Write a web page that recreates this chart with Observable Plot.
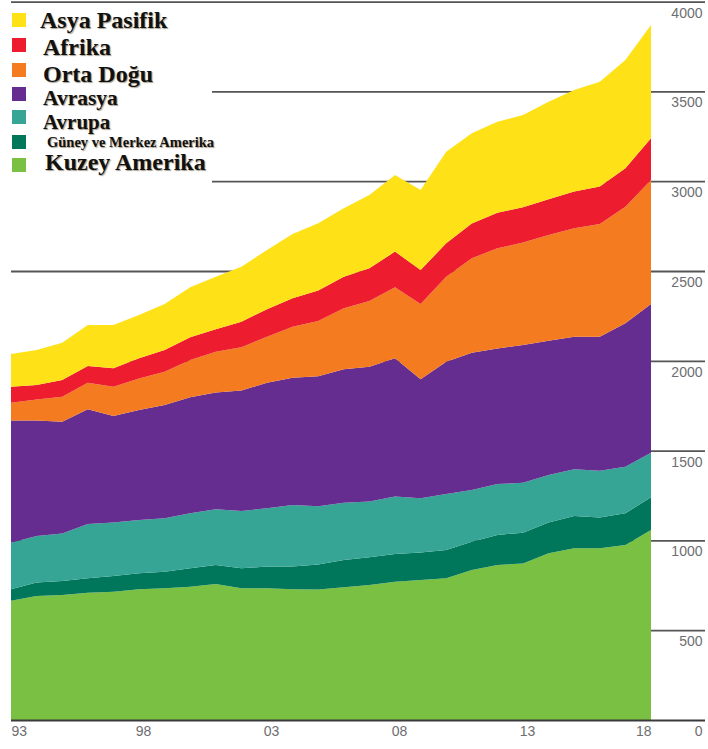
<!DOCTYPE html>
<html><head><meta charset="utf-8">
<script src="https://cdn.jsdelivr.net/npm/d3@7"></script>
<script src="https://cdn.jsdelivr.net/npm/@observablehq/plot@0.6"></script>
<style>
body{margin:0;background:#fff;}
#wrap{position:relative;width:708px;height:749px;}
#legend{position:absolute;left:0;top:0;}
</style>
</head><body><div id="wrap"></div>
<script>
// ---- data ----
const years = [1993,1994,1995,1996,1997,1998,1999,2000,2001,2002,2003,2004,2005,2006,2007,2008,2009,2010,2011,2012,2013,2014,2015,2016,2017,2018];
const kuzeyAmerika = [664,690,696,709,714,728,733,742,757,733,733,728,726,739,752,770,780,789,835,863,872,928,956,956,974,1058];
const guneyMerkezAmerika = [64,75,78,80,88,89,93,103,106,112,121,126,140,152,154,154,152,158,158,167,171,171,180,172,177,182];
const avrupa = [259,259,265,302,297,297,297,306,310,319,325,343,324,319,310,320,302,311,288,284,278,265,260,260,259,248];
const avrasya = [680,643,622,639,594,612,631,646,650,670,699,709,724,743,751,770,663,737,764,755,767,748,738,746,799,828];
const ortaDogu = [100,118,139,148,163,176,185,207,228,241,256,284,308,339,366,395,419,473,526,557,570,588,604,628,649,691];
const afrika = [89,80,93,93,102,112,121,127,124,143,153,158,170,176,182,199,190,186,194,199,197,199,204,208,214,232];
const asyaPasifik = [182,195,208,228,241,241,256,278,293,306,330,358,374,381,408,427,445,510,502,506,514,544,566,584,603,631];

const regions = ["Kuzey Amerika","Güney ve Merkez Amerika","Avrupa","Avrasya","Orta Doğu","Afrika","Asya Pasifik"];
const seriesValues = [kuzeyAmerika, guneyMerkezAmerika, avrupa, avrasya, ortaDogu, afrika, asyaPasifik];
const colors = ["#7ac143","#00765a","#36a596","#652d90","#f47b20","#ed1c2e","#fee116"];
const legendOrder = ["Asya Pasifik","Afrika","Orta Doğu","Avrasya","Avrupa","Güney ve Merkez Amerika","Kuzey Amerika"];

const yTicks = [500,1000,1500,2000,2500,3000,3500,4000];
const yLabels = [0,500,1000,1500,2000,2500,3000,3500,4000];
const xTickYears = [1993,1998,2003,2008,2013,2018];
const xTickLabels = ["93","98","03","08","13","18"];

// ---- long table for the library ----
const table = [];
regions.forEach((r, k) => years.forEach((yr, i) => table.push({year: yr, region: r, value: seriesValues[k][i]})));

const labelStyle = {fill: "#6d6e71", fontSize: 14, fontFamily: "Liberation Sans, Arial, sans-serif"};

const chart = Plot.plot({
  width: 708, height: 749,
  marginLeft: 11, marginRight: 57, marginTop: 1.6, marginBottom: 29,
  x: {domain: [1993, 2018], axis: null},
  y: {domain: [0, 4000], axis: null},
  color: {domain: regions, range: colors},
  style: {background: "white", fontFamily: "Liberation Sans, Arial, sans-serif"},
  marks: [
    Plot.ruleY(yTicks, {stroke: "#555", strokeWidth: 1.8, insetRight: -54}),
    Plot.areaY(table, {x: "year", y: "value", fill: "region", order: regions, curve: "linear"}),
    Plot.ruleY([0], {stroke: "#3a3a3a", strokeWidth: 2, insetRight: -54}),
    Plot.text(yLabels, {y: d => d, frameAnchor: "right", dx: 51, dy: 11, textAnchor: "end", text: d => String(d), ...labelStyle}),
    Plot.text(xTickYears.slice(0, 1), {x: d => d, y: 0, dy: 11, textAnchor: "start", text: (d) => xTickLabels[xTickYears.indexOf(d)], ...labelStyle}),
    Plot.text(xTickYears.slice(1, -1), {x: d => d, y: 0, dy: 11, dx: 4, textAnchor: "middle", text: (d) => xTickLabels[xTickYears.indexOf(d)], ...labelStyle}),
    Plot.text(xTickYears.slice(-1), {x: d => d, y: 0, dy: 11, textAnchor: "end", text: (d) => xTickLabels[xTickYears.indexOf(d)], ...labelStyle})
  ]
});
const wrap = document.getElementById("wrap");
wrap.appendChild(chart);

// ---- legend overlay (top-left, white box) ----
const legendLayout = [
  {sq: 13, base: 28, tx: 40, fs: 24},
  {sq: 38, base: 55, tx: 43, fs: 24},
  {sq: 63, base: 82, tx: 43, fs: 24},
  {sq: 87, base: 104.5, tx: 43, fs: 21.5},
  {sq: 110, base: 128.5, tx: 43, fs: 21},
  {sq: 135, base: 147, tx: 47, fs: 14.5},
  {sq: 158, base: 170, tx: 45, fs: 24}
];
const lg = d3.create("svg").attr("id", "legend").attr("width", 245).attr("height", 190);
lg.append("rect").attr("x", 0).attr("y", 4).attr("width", 212).attr("height", 181).attr("fill", "white");
legendOrder.forEach((name, i) => {
  const L = legendLayout[i];
  const c = colors[regions.indexOf(name)];
  lg.append("rect").attr("x", 12).attr("y", L.sq).attr("width", 14).attr("height", 14).attr("fill", c);
  lg.append("text").attr("x", L.tx).attr("y", L.base)
    .attr("font-family", "Liberation Serif, 'Times New Roman', serif")
    .attr("font-weight", "bold").attr("font-size", L.fs).attr("fill", "#111")
    .style("text-shadow", "1px 1px 1px rgba(60,40,0,0.45)")
    .text(name);
});
wrap.appendChild(lg.node());
</script>
</body></html>
